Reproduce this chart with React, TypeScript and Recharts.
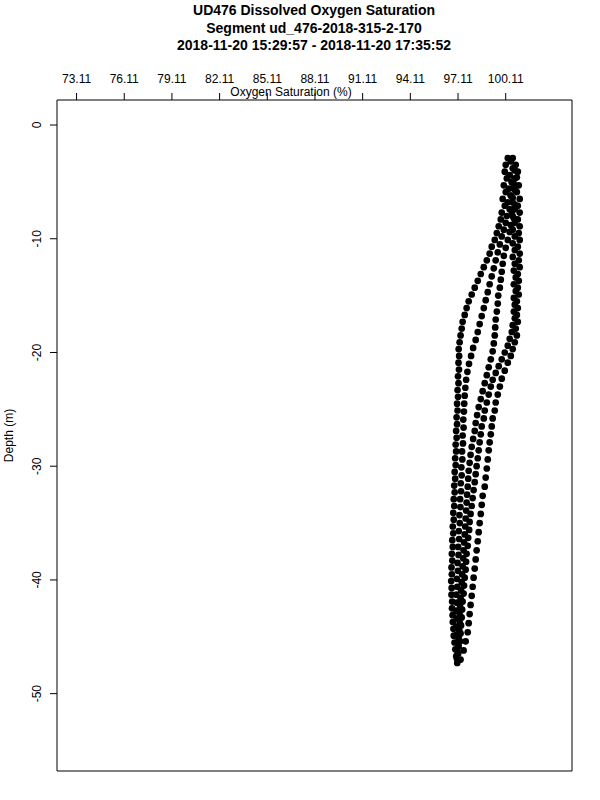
import React from 'react';
import { ScatterChart, Scatter, XAxis, YAxis, ReferenceArea, Label } from 'recharts';

const titleLines = [
  'UD476 Dissolved Oxygen Saturation',
  'Segment ud_476-2018-315-2-170',
  '2018-11-20 15:29:57 - 2018-11-20 17:35:52',
];
const xLabel = 'Oxygen Saturation (%)';
const yLabel = 'Depth (m)';
const satTicks = [73.11, 76.11, 79.11, 82.11, 85.11, 88.11, 91.11, 94.11, 97.11, 100.11];
const depthTicks = [0, -10, -20, -30, -40, -50];
const satDomain = [71.88, 104.28];
const depthDomain = [-56.8, 2.2];

// [oxygen saturation %, depth m]
const dive1 = [
  [100.24, -2.9], [100.11, -3.5], [100.05, -4.1], [100.18, -4.7], [99.99, -5.3], [100.11, -5.9], [99.92, -6.5], [100.05, -7.1],
  [99.86, -7.7], [99.80, -8.3], [99.67, -8.9], [99.55, -9.5], [99.42, -10.1], [99.23, -10.7], [99.10, -11.3], [98.92, -11.9],
  [98.73, -12.5], [98.54, -13.1], [98.35, -13.7], [98.16, -14.3], [97.97, -14.9], [97.78, -15.5], [97.65, -16.1], [97.53, -16.7],
  [97.40, -17.3], [97.34, -17.9], [97.27, -18.5], [97.21, -19.1], [97.15, -19.7], [97.18, -20.3], [97.14, -20.9], [97.17, -21.5],
  [97.11, -22.1], [97.14, -22.7], [97.08, -23.3], [97.11, -23.9], [97.05, -24.5], [97.08, -25.1], [97.02, -25.7], [97.05, -26.3],
  [96.99, -26.9], [97.02, -27.5], [96.96, -28.1], [96.99, -28.7], [96.93, -29.3], [96.96, -29.9], [96.90, -30.5], [96.93, -31.1],
  [96.87, -31.7], [96.90, -32.3], [96.84, -32.9], [96.87, -33.5], [96.81, -34.1], [96.84, -34.7], [96.78, -35.3], [96.81, -35.9],
  [96.75, -36.5], [96.78, -37.1], [96.72, -37.7], [96.75, -38.3], [96.70, -38.9], [96.72, -39.5], [96.68, -40.1], [96.71, -40.7],
  [96.70, -41.3], [96.74, -41.9], [96.73, -42.5], [96.77, -43.1], [96.78, -43.7], [96.82, -44.3], [96.84, -44.9], [96.89, -45.5],
  [96.94, -46.1], [97.00, -46.7], [97.06, -47.3],
];

const dive2 = [
  [100.43, -3.2], [100.55, -3.8], [100.36, -4.4], [100.49, -5.0], [100.30, -5.6], [100.43, -6.2], [100.24, -6.8], [100.36, -7.4],
  [100.18, -8.0], [100.11, -8.6], [99.99, -9.2], [99.86, -9.8], [99.74, -10.5], [99.61, -11.2], [99.48, -11.9], [99.36, -12.6],
  [99.23, -13.3], [99.10, -14.0], [98.98, -14.7], [98.85, -15.4], [98.73, -16.1], [98.60, -16.8], [98.47, -17.5], [98.35, -18.2],
  [98.22, -18.9], [98.06, -19.6], [97.93, -20.3], [97.80, -21.0], [97.70, -21.7], [97.62, -22.4], [97.57, -23.1], [97.53, -23.8],
  [97.50, -24.5], [97.48, -25.2], [97.44, -25.9], [97.46, -26.6], [97.40, -27.3], [97.42, -28.0], [97.36, -28.7], [97.38, -29.4],
  [97.32, -30.1], [97.34, -30.8], [97.28, -31.5], [97.30, -32.2], [97.24, -32.9], [97.26, -33.6], [97.20, -34.3], [97.22, -35.0],
  [97.16, -35.7], [97.18, -36.4], [97.12, -37.1], [97.14, -37.8], [97.08, -38.5], [97.10, -39.2], [97.04, -39.9], [97.06, -40.6],
  [97.01, -41.3], [97.04, -42.0], [97.00, -42.7], [97.03, -43.4], [97.00, -44.1], [97.04, -44.8], [97.02, -45.5], [97.06, -46.2],
  [97.04, -46.9],
];

const dive3 = [
  [100.68, -4.0], [100.81, -4.6], [100.62, -5.2], [100.74, -5.8], [100.55, -6.4], [100.68, -7.0], [100.49, -7.6], [100.62, -8.2],
  [100.43, -8.8], [100.36, -9.4], [100.24, -10.1], [100.11, -10.8], [99.99, -11.5], [99.92, -12.2], [99.86, -12.9], [99.80, -13.6],
  [99.74, -14.3], [99.64, -15.0], [99.61, -15.7], [99.55, -16.4], [99.48, -17.1], [99.45, -17.8], [99.42, -18.5], [99.36, -19.2],
  [99.29, -19.9], [99.17, -20.6], [99.04, -21.3], [98.92, -22.0], [98.79, -22.7], [98.66, -23.4], [98.54, -24.1], [98.41, -24.8],
  [98.31, -25.5], [98.22, -26.2], [98.16, -26.9], [98.06, -27.6], [97.97, -28.3], [97.90, -29.0], [97.84, -29.7], [97.78, -30.4],
  [97.75, -31.1], [97.72, -31.8], [97.68, -32.5], [97.65, -33.2], [97.62, -33.9], [97.59, -34.6], [97.56, -35.3], [97.53, -36.0],
  [97.49, -36.7], [97.46, -37.4], [97.43, -38.1], [97.40, -38.8], [97.37, -39.5], [97.34, -40.2], [97.30, -40.9], [97.27, -41.6],
  [97.24, -42.3], [97.21, -43.0], [97.21, -43.7], [97.18, -44.4], [97.15, -45.1], [97.15, -45.8], [97.12, -46.5],
];

const climb1 = [
  [100.55, -2.9], [100.74, -3.5], [100.87, -4.1], [100.68, -4.7], [100.93, -5.3], [100.81, -5.9], [100.99, -6.5], [100.87, -7.1],
  [100.99, -7.7], [100.87, -8.3], [100.99, -8.9], [100.93, -9.5], [100.99, -10.1], [100.87, -10.7], [100.99, -11.3], [100.93, -11.9],
  [100.99, -12.5], [100.87, -13.1], [100.93, -13.7], [100.87, -14.3], [100.93, -14.9], [100.81, -15.5], [100.87, -16.1], [100.81, -16.7],
  [100.87, -17.3], [100.74, -17.9], [100.81, -18.5], [100.68, -19.1], [100.55, -19.7], [100.43, -20.3], [100.24, -20.9], [100.05, -21.6],
  [99.86, -22.3], [99.74, -23.0], [99.61, -23.7], [99.48, -24.4], [99.42, -25.1], [99.29, -25.8], [99.23, -26.5], [99.17, -27.2],
  [99.10, -27.9], [99.04, -28.6], [98.98, -29.4], [98.92, -30.2], [98.85, -31.0], [98.79, -31.8], [98.66, -32.6], [98.60, -33.4],
  [98.54, -34.2], [98.47, -35.0], [98.41, -35.8], [98.35, -36.6], [98.28, -37.4], [98.22, -38.2], [98.16, -39.0], [98.09, -39.8],
  [98.03, -40.6], [97.97, -41.4], [97.90, -42.2], [97.84, -43.0], [97.78, -43.8], [97.72, -44.6], [97.59, -45.4], [97.46, -46.2],
  [97.27, -47.0],
];

const climb2 = [
  [100.49, -5.0], [100.62, -5.6], [100.43, -6.2], [100.55, -6.8], [100.68, -7.4], [100.55, -8.0], [100.68, -8.6], [100.55, -9.2],
  [100.68, -9.8], [100.55, -10.4], [100.68, -11.0], [100.55, -11.6], [100.68, -12.2], [100.62, -12.8], [100.74, -13.4], [100.62, -14.0],
  [100.74, -14.6], [100.62, -15.2], [100.68, -15.8], [100.62, -16.4], [100.68, -17.0], [100.55, -17.6], [100.49, -18.2], [100.36, -18.8],
  [100.24, -19.4], [100.05, -20.0], [99.86, -20.6], [99.67, -21.2], [99.48, -21.8], [99.29, -22.4], [99.17, -23.0], [99.04, -23.7],
  [98.92, -24.4], [98.79, -25.1], [98.73, -25.8], [98.60, -26.5], [98.54, -27.2], [98.47, -27.9], [98.41, -28.6], [98.35, -29.3],
  [98.28, -30.0], [98.22, -30.7], [98.16, -31.4], [98.09, -32.1], [98.03, -32.8], [97.97, -33.5], [97.90, -34.2], [97.84, -34.9],
  [97.81, -35.6], [97.75, -36.3], [97.72, -37.0], [97.65, -37.7], [97.62, -38.4], [97.59, -39.1], [97.53, -39.8], [97.49, -40.5],
  [97.46, -41.2], [97.40, -41.9], [97.37, -42.6], [97.34, -43.3], [97.30, -44.0], [97.27, -44.7], [97.24, -45.4],
];

const traces = [dive1, dive2, dive3, climb1, climb2];

const FONT = '"Liberation Sans", Arial, Helvetica, sans-serif';

const SatTick = (props: any) => {
  const { x, y, payload } = props;
  return (
    <text x={x} y={y} textAnchor="middle" fontSize={12} fontFamily={FONT} fill="#000">
      {payload.value.toFixed(2)}
    </text>
  );
};

const DepthTick = (props: any) => {
  const { x, y, payload } = props;
  return (
    <text x={x} y={y} transform={`rotate(-90 ${x} ${y})`} textAnchor="middle" fontSize={12} fontFamily={FONT} fill="#000">
      {payload.value}
    </text>
  );
};

const Dot = (p: any) => <circle cx={p.cx} cy={p.cy} r={3.35} fill="#000" />;

export default function App() {
  return (
    <div style={{ position: 'absolute', left: 0, top: 0, width: 600, height: 800, background: '#fff' }}>
      <svg width={600} height={70} style={{ position: 'absolute', left: 0, top: 0 }}>
        {titleLines.map((t, i) => (
          <text key={i} x={314} y={15 + i * 17.5} textAnchor="middle" fontSize={14} fontWeight="bold" fontFamily={FONT} fill="#000">
            {t}
          </text>
        ))}
      </svg>
      <div style={{ position: 'absolute', left: 0, top: 0 }}>
        <ScatterChart width={600} height={800} margin={{ top: 70, right: 28, bottom: 29, left: 27 }}>
          <XAxis
            type="number"
            dataKey="sat"
            orientation="top"
            height={30}
            domain={satDomain}
            allowDataOverflow
            ticks={satTicks}
            interval={0}
            tick={<SatTick />}
            tickSize={7}
            tickMargin={10}
            axisLine={false}
            tickLine={{ stroke: '#000' }}
          >
            <Label
              content={(props: any) => {
                const vb = props.viewBox || { x: 57, y: 70, width: 515, height: 30 };
                return (
                  <text x={vb.x + 234} y={vb.y + 26} textAnchor="middle" fontSize={12} fontFamily={FONT} fill="#000">
                    {xLabel}
                  </text>
                );
              }}
            />
          </XAxis>
          <YAxis
            type="number"
            dataKey="depth"
            width={30}
            domain={depthDomain}
            allowDataOverflow
            ticks={depthTicks}
            interval={0}
            tick={<DepthTick />}
            tickSize={7}
            tickMargin={9}
            axisLine={false}
            tickLine={{ stroke: '#000' }}
          >
            <Label
              content={(props: any) => {
                const vb = props.viewBox || { x: 27, y: 100, width: 30, height: 671 };
                const cx = vb.x - 14;
                const cy = vb.y + vb.height / 2;
                return (
                  <text x={cx} y={cy} transform={`rotate(-90 ${cx} ${cy})`} textAnchor="middle" fontSize={12} fontFamily={FONT} fill="#000">
                    {yLabel}
                  </text>
                );
              }}
            />
          </YAxis>
          <ReferenceArea
            x1={satDomain[0]}
            x2={satDomain[1]}
            y1={depthDomain[0]}
            y2={depthDomain[1]}
            fill="none"
            stroke="#000"
            strokeWidth={1}
            fillOpacity={0}
            ifOverflow="visible"
          />
          {traces.map((tr, i) => (
            <Scatter
              key={i}
              data={tr.map(([sat, depth]) => ({ sat, depth }))}
              fill="#000"
              shape={Dot}
              isAnimationActive={false}
            />
          ))}
        </ScatterChart>
      </div>
    </div>
  );
}
